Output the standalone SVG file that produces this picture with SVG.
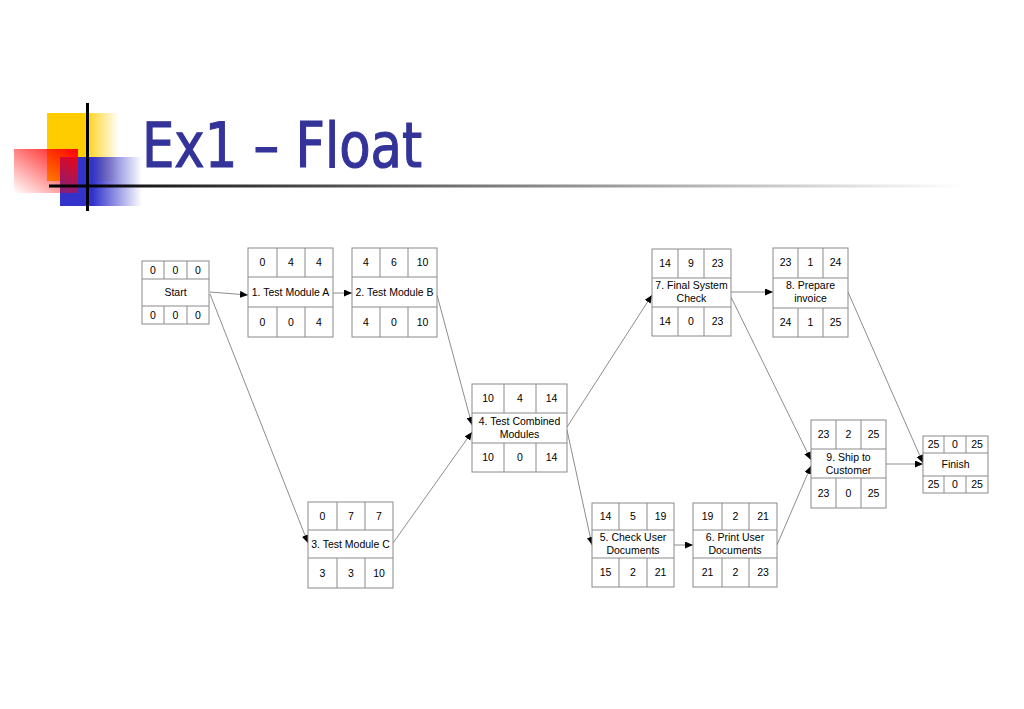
<svg xmlns="http://www.w3.org/2000/svg" width="1024" height="709" viewBox="0 0 1024 709">
<style>
.box{fill:#fff;stroke:#8a8a8a;stroke-width:1}
.div{stroke:#8a8a8a;stroke-width:1}
.t{font-family:"Liberation Sans",Arial,sans-serif;font-size:10.5px;fill:#000;text-anchor:middle}
.c{fill:none;stroke:#707070;stroke-width:0.8}
.title{font-family:"DejaVu Sans Condensed","DejaVu Sans",Verdana,sans-serif;font-stretch:condensed;font-size:62px;fill:#333399;stroke:#333399;stroke-width:1.1}
</style>
<defs>
<marker id="arr" markerUnits="userSpaceOnUse" markerWidth="9" markerHeight="8" refX="8" refY="3.5" orient="auto"><path d="M0,0 L8,3.5 L0,7 z" fill="#000"/></marker>
<linearGradient id="gy" x1="0" y1="0" x2="1" y2="0"><stop offset="0.5" stop-color="#FFCC00"/><stop offset="1" stop-color="#FFCC00" stop-opacity="0"/></linearGradient>
<linearGradient id="gr" x1="1" y1="0" x2="0" y2="1"><stop offset="0" stop-color="#FF0000"/><stop offset="1" stop-color="#FF0000" stop-opacity="0"/></linearGradient>
<linearGradient id="gb" x1="0" y1="0" x2="1" y2="0"><stop offset="0.4" stop-color="#3333CC"/><stop offset="1" stop-color="#3333CC" stop-opacity="0"/></linearGradient>
<linearGradient id="gl" x1="0" y1="0" x2="1" y2="0"><stop offset="0" stop-color="#000"/><stop offset="1" stop-color="#000" stop-opacity="0"/></linearGradient>
</defs>
<g id="title-decoration">
<rect x="47" y="113" width="72" height="68" fill="url(#gy)"/>
<rect x="60" y="157" width="82" height="49" fill="url(#gb)"/>
<rect x="14" y="149" width="64" height="44" fill="url(#gr)"/>
<rect x="86" y="103" width="3" height="108" fill="#000"/>
<rect x="49" y="184.5" width="915" height="3" fill="url(#gl)"/>
<text class="title" x="142" y="167" textLength="280" lengthAdjust="spacingAndGlyphs">Ex1 – Float</text>
</g>
<g id="connectors">
<line class="c" x1="210" y1="292" x2="248" y2="295" marker-end="url(#arr)"/>
<line class="c" x1="333" y1="293" x2="352" y2="293" marker-end="url(#arr)"/>
<line class="c" x1="210" y1="294" x2="308" y2="543" marker-end="url(#arr)"/>
<line class="c" x1="437" y1="295" x2="472" y2="425" marker-end="url(#arr)"/>
<line class="c" x1="393" y1="543" x2="472" y2="432" marker-end="url(#arr)"/>
<line class="c" x1="567" y1="427" x2="652" y2="295" marker-end="url(#arr)"/>
<line class="c" x1="567" y1="430" x2="592" y2="545" marker-end="url(#arr)"/>
<line class="c" x1="674" y1="545" x2="693" y2="545" marker-end="url(#arr)"/>
<line class="c" x1="777" y1="545" x2="811" y2="466" marker-end="url(#arr)"/>
<line class="c" x1="731" y1="292" x2="773" y2="292" marker-end="url(#arr)"/>
<line class="c" x1="731" y1="297" x2="811" y2="460" marker-end="url(#arr)"/>
<line class="c" x1="848" y1="292" x2="923" y2="463" marker-end="url(#arr)"/>
<line class="c" x1="886" y1="464" x2="923" y2="464" marker-end="url(#arr)"/>
</g>
<g id="node-start">
<rect class="box" x="142" y="261" width="67" height="63"/>
<path class="div" d="M142,279H209M142,306H209M164,261V279M187,261V279M164,306V324M187,306V324"/>
<text class="t" x="153" y="274">0</text><text class="t" x="175.5" y="274">0</text><text class="t" x="198" y="274">0</text>
<text class="t" x="175.5" y="296">Start</text>
<text class="t" x="153" y="319">0</text><text class="t" x="175.5" y="319">0</text><text class="t" x="198" y="319">0</text>
</g>
<g id="node-1">
<rect class="box" x="248" y="248" width="85" height="89"/>
<path class="div" d="M248,277H333M248,307H333M277,248V277M305,248V277M277,307V337M305,307V337"/>
<text class="t" x="262.5" y="266">0</text><text class="t" x="291" y="266">4</text><text class="t" x="319" y="266">4</text>
<text class="t" x="290.5" y="296">1. Test Module A</text>
<text class="t" x="262.5" y="326">0</text><text class="t" x="291" y="326">0</text><text class="t" x="319" y="326">4</text>
</g>
<g id="node-2">
<rect class="box" x="352" y="248" width="85" height="89"/>
<path class="div" d="M352,277H437M352,307H437M380,248V277M408,248V277M380,307V337M408,307V337"/>
<text class="t" x="366" y="266">4</text><text class="t" x="394" y="266">6</text><text class="t" x="422.5" y="266">10</text>
<text class="t" x="394.5" y="296">2. Test Module B</text>
<text class="t" x="366" y="326">4</text><text class="t" x="394" y="326">0</text><text class="t" x="422.5" y="326">10</text>
</g>
<g id="node-3">
<rect class="box" x="308" y="502" width="85" height="86"/>
<path class="div" d="M308,530H393M308,558H393M337,502V530M365,502V530M337,558V588M365,558V588"/>
<text class="t" x="322.5" y="520">0</text><text class="t" x="351" y="520">7</text><text class="t" x="379" y="520">7</text>
<text class="t" x="350.5" y="548">3. Test Module C</text>
<text class="t" x="322.5" y="577">3</text><text class="t" x="351" y="577">3</text><text class="t" x="379" y="577">10</text>
</g>
<g id="node-4">
<rect class="box" x="472" y="384" width="95" height="88"/>
<path class="div" d="M472,413H567M472,443H567M504,384V413M536,384V413M504,443V472M536,443V472"/>
<text class="t" x="488" y="402">10</text><text class="t" x="520" y="402">4</text><text class="t" x="551.5" y="402">14</text>
<text class="t" x="519.5" y="425">4. Test Combined</text>
<text class="t" x="519.5" y="438">Modules</text>
<text class="t" x="488" y="461">10</text><text class="t" x="520" y="461">0</text><text class="t" x="551.5" y="461">14</text>
</g>
<g id="node-5">
<rect class="box" x="592" y="503" width="82" height="84"/>
<path class="div" d="M592,530H674M592,558H674M619,503V530M647,503V530M619,558V587M647,558V587"/>
<text class="t" x="605.5" y="520">14</text><text class="t" x="633" y="520">5</text><text class="t" x="660.5" y="520">19</text>
<text class="t" x="633" y="541">5. Check User</text>
<text class="t" x="633" y="554">Documents</text>
<text class="t" x="605.5" y="576">15</text><text class="t" x="633" y="576">2</text><text class="t" x="660.5" y="576">21</text>
</g>
<g id="node-6">
<rect class="box" x="693" y="503" width="84" height="84"/>
<path class="div" d="M693,530H777M693,558H777M722,503V530M749,503V530M722,558V587M749,558V587"/>
<text class="t" x="707.5" y="520">19</text><text class="t" x="735.5" y="520">2</text><text class="t" x="763" y="520">21</text>
<text class="t" x="735" y="541">6. Print User</text>
<text class="t" x="735" y="554">Documents</text>
<text class="t" x="707.5" y="576">21</text><text class="t" x="735.5" y="576">2</text><text class="t" x="763" y="576">23</text>
</g>
<g id="node-7">
<rect class="box" x="652" y="249" width="79" height="87"/>
<path class="div" d="M652,278H731M652,307H731M678,249V278M704,249V278M678,307V336M704,307V336"/>
<text class="t" x="665" y="267">14</text><text class="t" x="691" y="267">9</text><text class="t" x="717.5" y="267">23</text>
<text class="t" x="691.5" y="289">7. Final System</text>
<text class="t" x="691.5" y="302">Check</text>
<text class="t" x="665" y="325">14</text><text class="t" x="691" y="325">0</text><text class="t" x="717.5" y="325">23</text>
</g>
<g id="node-8">
<rect class="box" x="773" y="248" width="75" height="89"/>
<path class="div" d="M773,278H848M773,308H848M798,248V278M823,248V278M798,308V337M823,308V337"/>
<text class="t" x="785.5" y="266">23</text><text class="t" x="810.5" y="266">1</text><text class="t" x="835.5" y="266">24</text>
<text class="t" x="810.5" y="289">8. Prepare</text>
<text class="t" x="810.5" y="302">invoice</text>
<text class="t" x="785.5" y="326">24</text><text class="t" x="810.5" y="326">1</text><text class="t" x="835.5" y="326">25</text>
</g>
<g id="node-9">
<rect class="box" x="811" y="420" width="75" height="88"/>
<path class="div" d="M811,449H886M811,478H886M836,420V449M861,420V449M836,478V508M861,478V508"/>
<text class="t" x="823.5" y="438">23</text><text class="t" x="848.5" y="438">2</text><text class="t" x="873.5" y="438">25</text>
<text class="t" x="848.5" y="461">9. Ship to</text>
<text class="t" x="848.5" y="474">Customer</text>
<text class="t" x="823.5" y="497">23</text><text class="t" x="848.5" y="497">0</text><text class="t" x="873.5" y="497">25</text>
</g>
<g id="node-finish">
<rect class="box" x="923" y="436" width="65" height="57"/>
<path class="div" d="M923,453H988M923,476H988M944,436V453M966,436V453M944,476V493M966,476V493"/>
<text class="t" x="933.5" y="448">25</text><text class="t" x="955" y="448">0</text><text class="t" x="977" y="448">25</text>
<text class="t" x="955.5" y="468">Finish</text>
<text class="t" x="933.5" y="488">25</text><text class="t" x="955" y="488">0</text><text class="t" x="977" y="488">25</text>
</g>
</svg>
